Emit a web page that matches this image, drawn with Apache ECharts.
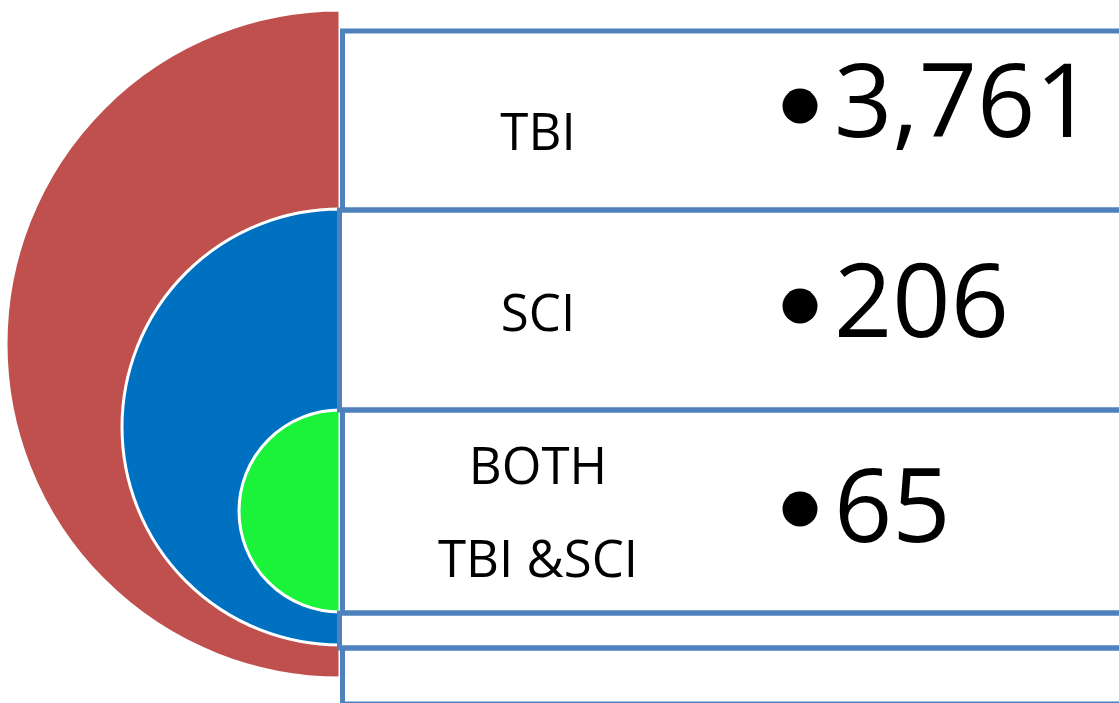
<!DOCTYPE html>
<html>
<head>
<meta charset="utf-8">
<script src="https://cdn.jsdelivr.net/npm/echarts@6/dist/echarts.min.js"></script>
<style>
  html, body { margin: 0; padding: 0; background: #fff; }
  #chart { width: 1119px; height: 703px; }
</style>
</head>
<body>
<div id="chart"></div>
<script>
// data
var groups = ['TBI', 'SCI', 'BOTH\nTBI &SCI']
var counts = [3761, 206, 65]

// styling / layout
var discColors = ['#C0504D', '#0070C0', '#1BF23A']
var discs = [
  { cx: 340, cy: 344, r: 334 },
  { cx: 340, cy: 427, r: 218 },
  { cx: 340, cy: 511, r: 101 }
]
var rows = [
  { top: 31, bottom: 210, x: 342.5 },
  { top: 210, bottom: 410, x: 339.5 },
  { top: 410, bottom: 613, x: 342.5 },
  { top: 613, bottom: 648, x: 339.5 },
  { top: 648, bottom: 704, x: 342.5 }
]
var labelY = [135, 316, 516]
var numberY = [108, 308, 513]
var bulletY = [106, 306, 509]
var FONT = '"Open Sans", "Noto Sans", sans-serif'

var chart = echarts.init(document.getElementById('chart'), null, { renderer: 'canvas' })

// half discs, one pie each
var series = counts.map(function (v, i) {
  return {
    type: 'pie',
    center: [discs[i].cx, discs[i].cy],
    radius: [0, discs[i].r],
    startAngle: 90,
    endAngle: 270,
    clockwise: false,
    silent: true,
    label: { show: false },
    labelLine: { show: false },
    itemStyle: { color: discColors[i], borderColor: '#fff', borderWidth: 3 },
    emphasis: { disabled: true },
    data: [{ name: groups[i], value: v }],
    z: 1 + i
  }
})

var graphic = []
rows.forEach(function (r) {
  graphic.push({
    type: 'rect',
    shape: { x: r.x, y: r.top, width: 1000, height: r.bottom - r.top },
    style: { fill: 'rgba(255,255,255,0)', stroke: '#4F81BD', lineWidth: 5 },
    z: 10
  })
})
groups.forEach(function (g, i) {
  graphic.push({
    type: 'text',
    x: 538,
    y: labelY[i],
    style: {
      text: g,
      font: '51px ' + FONT,
      fill: '#000',
      align: 'center',
      verticalAlign: 'middle',
      lineHeight: 93
    },
    z: 11
  })
  graphic.push({
    type: 'circle',
    shape: { cx: 800, cy: bulletY[i], r: 17.5 },
    style: { fill: '#000' },
    z: 11
  })
  graphic.push({
    type: 'text',
    x: 834,
    y: numberY[i],
    style: {
      text: counts[i].toLocaleString('en-US'),
      font: '102px ' + FONT,
      fill: '#000',
      align: 'left',
      verticalAlign: 'middle'
    },
    z: 11
  })
})

chart.setOption({
  animation: false,
  backgroundColor: '#fff',
  series: series,
  graphic: graphic
})
</script>
</body>
</html>
